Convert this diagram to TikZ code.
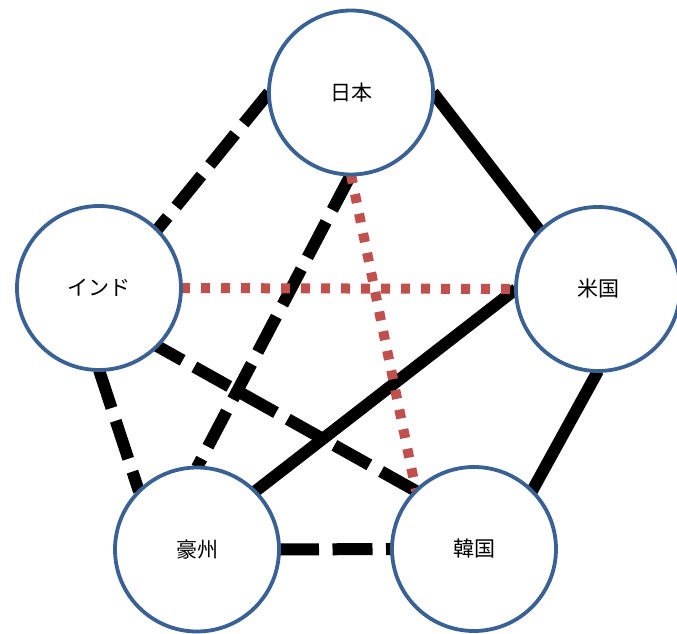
\documentclass[tikz,border=0pt]{standalone}
\usepackage{fontspec}
\newfontfamily\jp{Noto Sans CJK JP}
\usetikzlibrary{backgrounds}
\definecolor{ringblue}{HTML}{3A6194}
\definecolor{dotred}{HTML}{C0504D}
\tikzset{
  country/.style={circle, draw=ringblue, line width=3.8pt, fill=white,
    minimum size=164pt, inner sep=0pt, outer sep=0pt,
    font=\jp\fontsize{21}{21}\selectfont},
  solidlink/.style={line width=12pt, black},
  dashlink/.style={line width=12pt, black, dash pattern=on 40pt off 13.5pt},
  dotlink/.style={line width=10pt, dotred, dash pattern=on 9pt off 11pt}
}
\begin{document}
\begin{tikzpicture}[x=1pt,y=-1pt]
\useasboundingbox (0,0) rectangle (677,634);
\node[country] (jp) at (351,92.5) {日本};
\node[country] (in) at (99,288) {インド};
\node[country] (us) at (598,289) {米国};
\node[country] (au) at (197,549.5) {豪州};
\node[country] (kr) at (474,549) {韓国};
\begin{scope}[on background layer]
  \draw[dashlink] (jp.west) -- (in.north east);
  \draw[solidlink] (jp.east) -- (us.north west);
  \draw[dashlink] (jp.south) -- (au.north);
  \draw[dashlink] (kr.north west) -- (in.south east);
  \draw[dashlink] (in.south) -- (au.north west);
  \draw[solidlink] (us.west) -- (au.north east);
  \draw[solidlink] (us.south) -- (kr.north east);
  \draw[dashlink] (au.east) -- (kr.west);
  \draw[dotlink] (jp.south) -- (kr.north west);
  \draw[dotlink] (in.east) -- (us.west);
\end{scope}
\end{tikzpicture}
\end{document}
